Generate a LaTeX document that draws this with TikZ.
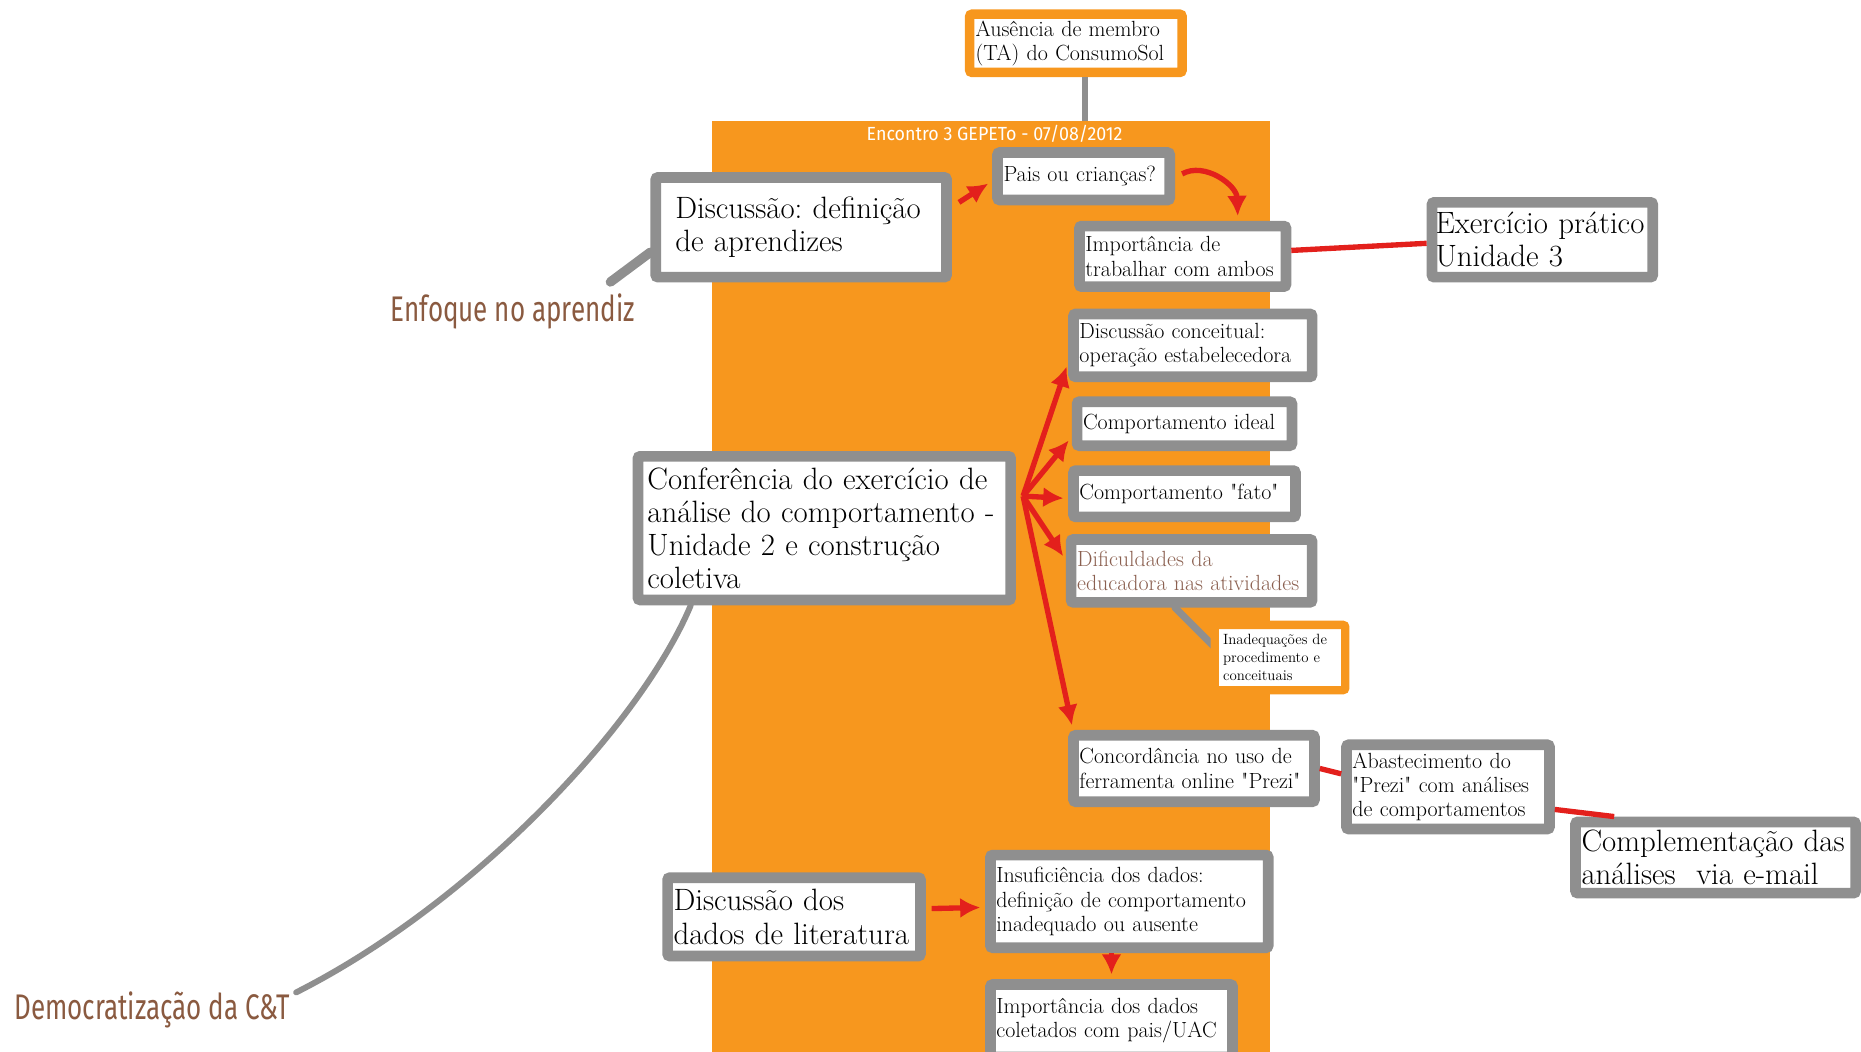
\documentclass[tikz,border=0pt]{standalone}
\usepackage{fontspec}
\usepackage{tikz}
\usetikzlibrary{positioning,shapes,arrows,arrows.meta}
\newfontfamily\labelfont[FakeStretch=0.73]{Fira Sans}
\newfontfamily\titlefont[FakeStretch=0.94]{Fira Sans}
\definecolor{prezorange}{HTML}{F7971E}
\definecolor{boxgray}{HTML}{8F8F8F}
\definecolor{prezred}{HTML}{E3201C}
\definecolor{labelbrown}{HTML}{8A5A40}
\definecolor{textbrown}{HTML}{8B6050}
\frenchspacing
\tikzstyle{arrow} = [prezred, line width=4.5pt, -{Latex[length=17pt,width=17pt]}, shorten >=4pt]
\tikzstyle{redline} = [prezred, line width=4.5pt]
\tikzstyle{grayline} = [boxgray, line width=6pt, line cap=round]
\tikzstyle{box} = [draw=boxgray, line width=9pt, fill=white, rectangle,
    rounded corners=2pt, align=left, inner xsep=5pt, inner ysep=2pt]
\tikzstyle{bigbox} = [box, font=\fontsize{26}{28}\selectfont]
\tikzstyle{midbox} = [box, font=\fontsize{18.5}{20.5}\selectfont]
\tikzstyle{frame} = [fill=prezorange, rectangle,
    minimum width=470pt, minimum height=800pt]
\tikzstyle{tag} = [text=labelbrown, font=\fontsize{30}{34}\labelfont]

\begin{document}
\begin{tikzpicture}[auto, x=1pt, y=-1pt]
     \useasboundingbox (0,0) rectangle (1568,886);
     \node [frame, anchor=north west] (encontro) at (600,102) {};
     \node [text=white, font=\fontsize{16}{18}\titlefont] (titulo) at (838,113) {Encontro 3 GEPETo - 07/08/2012};

     \node [midbox, draw=prezorange, line width=8pt, text width=169pt, minimum height=49pt] (ausencia) at (906.5,36.5) {Ausência de membro\\(TA) do ConsumoSol};
     \draw [grayline, line cap=butt, line width=5pt] ([xshift=8pt]ausencia.south) -- ([xshift=8pt]ausencia.south |- encontro.north);

     % aprendizes
     \node [bigbox, inner xsep=16.5pt, text width=212pt, minimum height=84pt] (discussao1) at (675,191.5) {Discussão: definição\\de aprendizes};
     \node [midbox, text width=135pt, minimum height=40pt] (pais) at (913,148.5) {Pais ou crianças?};
     \node [midbox, text width=164pt, minimum height=51pt] (ambos) at (996.5,216) {Importância de\\trabalhar com ambos};
     \node [bigbox, inner xsep=3pt, text width=180pt, minimum height=63pt] (exercicio) at (1299.5,202) {Exercício prático\\Unidade 3};
     \node [tag] (enfoque) at (432,262) {Enfoque no aprendiz};

     \draw [grayline, line width=8pt] ([xshift=-24pt,yshift=6pt]enfoque.north east) -- ([yshift=-21pt]discussao1.west);
     \draw [arrow] ([xshift=6pt,yshift=21pt]discussao1.east) -- ([yshift=-4pt]pais.west);
     \draw [arrow] ([xshift=6pt,yshift=2pt]pais.east) .. controls (1015,136) and (1042,156) .. ([xshift=46.5pt]ambos.north);
     \draw [redline] ([yshift=5pt]ambos.east) -- ([yshift=-3pt]exercicio.west);

     % conferencia
     \node [bigbox, inner xsep=8pt, text width=298pt, minimum height=121pt] (conferencia) at (694.5,445) {Conferência do exercício de\\análise do comportamento -\\Unidade 2 e construção\\coletiva};
     \node [midbox, text width=191pt, minimum height=53pt] (conceitual) at (1005,291) {Discussão conceitual:\\operação estabelecedora};
     \node [midbox, text width=171pt, minimum height=37pt] (ideal) at (998,357) {Comportamento ideal};
     \node [midbox, text width=177pt, minimum height=39pt] (fato) at (998,416) {Comportamento \textquotedbl fato\textquotedbl};
     \node [midbox, text=textbrown, text width=193pt, minimum height=53pt] (dificuldades) at (1004,481) {Dificuldades da\\educadora nas atividades};
     \node [midbox, text width=193pt, minimum height=56pt] (concordancia) at (1006,647.5) {Concordância no uso de\\ferramenta online \textquotedbl Prezi\textquotedbl};

     \draw [grayline] ([xshift=-14pt]dificuldades.south) -- (1026,548);
     \node [box, draw=prezorange, line width=7pt, inner xsep=7pt, font=\fontsize{12.5}{15}\selectfont, text width=96pt, minimum height=55pt] (inadequacoes) at (1078.5,554) {Inadequações de\\procedimento e\\conceituais};

     \coordinate (origem) at ([xshift=6pt,yshift=27pt]conferencia.east);
     \draw [arrow] (origem) -- ([yshift=-14pt]conceitual.west);
     \draw [arrow] (origem) -- ([yshift=-11pt]ideal.west);
     \draw [arrow] (origem) -- ([yshift=-4pt]fato.west);
     \draw [arrow] (origem) -- ([yshift=9pt]dificuldades.west);
     \draw [arrow] (origem) -- ([xshift=4pt]concordancia.north west);

     \node [midbox, text width=161pt, minimum height=71pt] (abastecimento) at (1220,663) {Abastecimento do\\\textquotedbl Prezi\textquotedbl{} com análises\\de comportamentos};
     \node [bigbox, text width=226pt, minimum height=60pt] (complementacao) at (1445.5,722.5) {Complementação das\\análises \ via e-mail};
     \draw [redline] (concordancia.east) -- ([yshift=11pt]abastecimento.west);
     \draw [redline] ([yshift=-19pt]abastecimento.east) -- ([xshift=37pt]complementacao.north west);

     % literatura
     \node [bigbox, text width=203pt, minimum height=66pt] (discussao2) at (669,772.5) {Discussão dos\\dados de literatura};
     \node [midbox, text width=224pt, minimum height=78pt] (insuficiencia) at (951.5,759.5) {Insuficiência dos dados:\\definição de comportamento\\inadequado ou ausente};
     \node [midbox, text width=194pt, minimum height=61pt] (importdados) at (936.5,860) {Importância dos dados\\coletados com pais/UAC};
     \draw [arrow] ([xshift=5pt,yshift=7pt]discussao2.east) -- ([yshift=-5pt]insuficiencia.west);
     \draw [arrow] (importdados.north |- insuficiencia.south) -- (importdados.north);

     \node [tag] (democratizacao) at (128,851) {Democratização da C\&T};
     \draw [grayline, line width=5pt] ([xshift=-112.5pt]conferencia.south) .. controls (540,610) and (400,760) .. ([xshift=2pt,yshift=-4pt]democratizacao.north east);
\end{tikzpicture}
\end{document}
